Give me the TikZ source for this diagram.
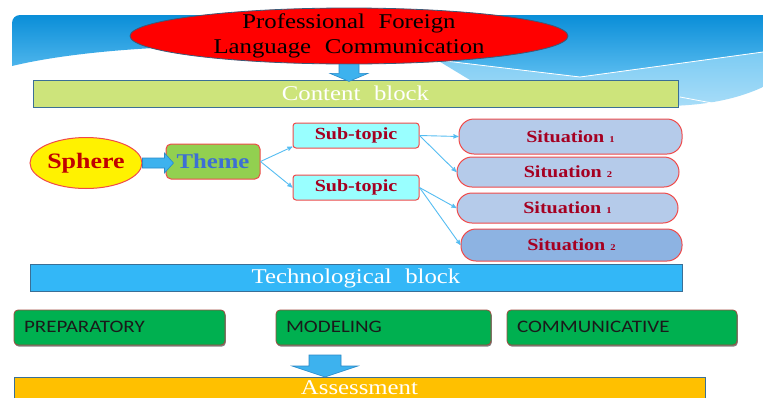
\documentclass[tikz,border=0pt]{standalone}
\usepackage{fontspec}
\setmainfont{Liberation Serif}[FakeStretch=1.18, WordSpace=2.2]
\setsansfont{Carlito}[FakeStretch=1.2]
\usetikzlibrary{arrows,shapes.geometric,shadows}

\definecolor{bandtop}{HTML}{0A8ED8}
\definecolor{bandbottom}{HTML}{5BBDF0}
\definecolor{bandlight}{HTML}{7CCBF3}
\definecolor{bandpale}{HTML}{A8DDF8}
\definecolor{titleline}{HTML}{3B5A78}
\definecolor{contentfill}{HTML}{CDE47B}
\definecolor{techfill}{HTML}{33B7F7}
\definecolor{assessfill}{HTML}{FFC000}
\definecolor{blockline}{HTML}{3A6F96}
\definecolor{arrowfill}{HTML}{3DB2EE}
\definecolor{arrowline}{HTML}{2A8AC8}
\definecolor{redline}{HTML}{F04A4A}
\definecolor{darkred}{HTML}{A50021}
\definecolor{spheretext}{HTML}{C00000}
\definecolor{themefill}{HTML}{92D050}
\definecolor{themetext}{HTML}{3D6FD4}
\definecolor{subfill}{HTML}{99FFFF}
\definecolor{sitfill}{HTML}{B5CBEA}
\definecolor{sitdark}{HTML}{8DB3E2}
\definecolor{linkblue}{HTML}{55BDF2}
\definecolor{stagefill}{HTML}{00B050}
\definecolor{stageline}{HTML}{A04A40}
\definecolor{stagetext}{HTML}{1A1A1A}

% block arrow from its tail at the origin, pointing along x:
% #2 length, #3 head length, #4 half shaft, #5 half head
\newcommand{\blockarrow}[5]{%
    \path[bigarrow,#1]
        (0, #4) -- ({#2 - #3}, #4) -- ({#2 - #3}, #5) -- (#2, 0) --
        ({#2 - #3}, -#5) -- ({#2 - #3}, -#4) -- (0, -#4) -- cycle;
}

\begin{document}
\begin{tikzpicture}
    [ x=1pt, y=-1pt,
      font={\rmfamily},
      title/.style={ellipse, fill=red, draw=titleline, line width=.8pt,
                    minimum width=438, minimum height=56, inner xsep=0,
                    inner ysep=-6pt, align=center,
                    font={\fontsize{21}{25}\selectfont}},
      block/.style={draw=blockline, line width=.8pt, minimum height=27,
                    inner sep=0, text=white,
                    font={\fontsize{21}{24}\selectfont}},
      sphere/.style={ellipse, fill=yellow, draw=redline, line width=1pt,
                     minimum width=112, minimum height=51, inner sep=0,
                     text=spheretext,
                     font={\fontsize{22}{24}\selectfont\bfseries}},
      theme/.style={fill=themefill, draw=redline, line width=1pt,
                    rounded corners=5, minimum width=94, minimum height=35,
                    inner sep=0, text=themetext,
                    font={\fontsize{21}{24}\selectfont\bfseries}},
      subtopic/.style={fill=subfill, draw=redline, line width=1pt,
                       rounded corners=3, minimum width=126,
                       minimum height=25, inner sep=0, text=darkred,
                       font={\fontsize{17}{20}\selectfont\bfseries}},
      situation/.style={draw=redline, line width=1pt, rounded corners=15,
                        inner sep=0, text=darkred,
                        font={\fontsize{17}{20}\selectfont\bfseries}},
      stage/.style={fill=stagefill, draw=stageline, line width=.8pt,
                    rounded corners=4, minimum height=35, inner xsep=10,
                    inner ysep=0, align=left, text=stagetext,
                    font={\sffamily\fontsize{17.5}{20}\selectfont},
                    drop shadow={shadow xshift=.8pt, shadow yshift=-1.6pt,
                                 fill=black!65, opacity=.75}},
      bigarrow/.style={fill=arrowfill, draw=arrowline, line width=.6pt},
      link/.style={linkblue, line width=.9pt, ->, >=stealth'}
    ]
    \useasboundingbox (0, 0) rectangle (763, 397);
    \fill[white] (0, 0) rectangle (763, 397);

    % Title band
    \shade[top color=bandtop, bottom color=bandbottom]
        (12, 66) [rounded corners=8] -- (12, 15) [sharp corners] --
        (763, 15) -- (763, 52) -- (580, 77) -- (437, 60)
        .. controls (330, 40) and (120, 40) .. (12, 66) -- cycle;
    \shade[top color=bandlight, bottom color=bandpale]
        (437, 60) -- (580, 77) -- (763, 52) -- (763, 87)
        .. controls (735, 100) and (700, 107) .. (650, 106) --
        (470, 105) -- (470, 80) -- cycle;
    \draw[white, line width=.8pt] (437, 60) -- (580, 77) -- (763, 52);
    \draw[white, line width=.8pt] (680, 97) -- (712, 103);

    % Content block
    \node[title] (pflc) at (349, 36)
        {Professional Foreign\\Language Communication};
    \node[block, fill=contentfill, minimum width=645] (content)
        at (355.5, 93.5) {Content block};
    \blockarrow{shift={(pflc.south)}, rotate=-90}{17}{8}{10}{19}

    % Sphere and theme
    \node[sphere] (sphere) at (86, 163) {Sphere};
    \node[theme] (theme) at (213, 161.5) {Theme};
    \blockarrow{shift={(sphere.east)}}{31}{9}{5}{10}

    % Sub-topics
    \node[subtopic] (sub1) at (356, 135.5) {Sub-topic};
    \node[subtopic] (sub2) at (356, 187.5) {Sub-topic};

    % Situations
    \foreach \name/\x/\y/\w/\h/\n/\c in {sit11/570.5/136.5/223/35/1/sitfill,
                                        sit12/568/172/222/30/2/sitfill,
                                        sit21/567.5/208/221/30/1/sitfill,
                                        sit22/571.5/245/221/32/2/sitdark} {
        \node[situation, fill=\c, minimum width=\w, minimum height=\h]
            (\name) at (\x, \y)
            {\raisebox{-1.5pt}{Situation\hspace{5pt}{\fontsize{9}{9}\selectfont\n}}};
    }

    \draw[link] (theme.east) -- (sub1.190);
    \draw[link] (theme.east) -- (sub2.west);
    \draw[link] (sub1.east) -- (sit11.west);
    \draw[link] (sub1.east) -- (sit12.west);
    \draw[link] (sub2.east) -- (sit21.west);
    \draw[link] (sub2.east) -- (sit22.west);

    % Technological block
    \node[block, fill=techfill, minimum width=652] (tech)
        at (356, 278) {Technological block};
    \foreach \name/\x/\tw/\txt in {prep/119.5/191/PREPARATORY,
                                   model/383.5/195/MODELING,
                                   comm/622/210/COMMUNICATIVE} {
        \node[stage, text width=\tw] (\name) at (\x, 327.5)
            {\raisebox{2pt}{\txt}};
    }

    % Assessment, running off the bottom edge
    \node[block, fill=assessfill, minimum width=691, minimum height=30]
        (assess) at (359.5, 392) {\raisebox{-2.5pt}[0pt][0pt]{Assessment}};
    \blockarrow{shift={(325, 355)}, rotate=-90}{22}{11}{16}{33}

\end{tikzpicture}
\end{document}
